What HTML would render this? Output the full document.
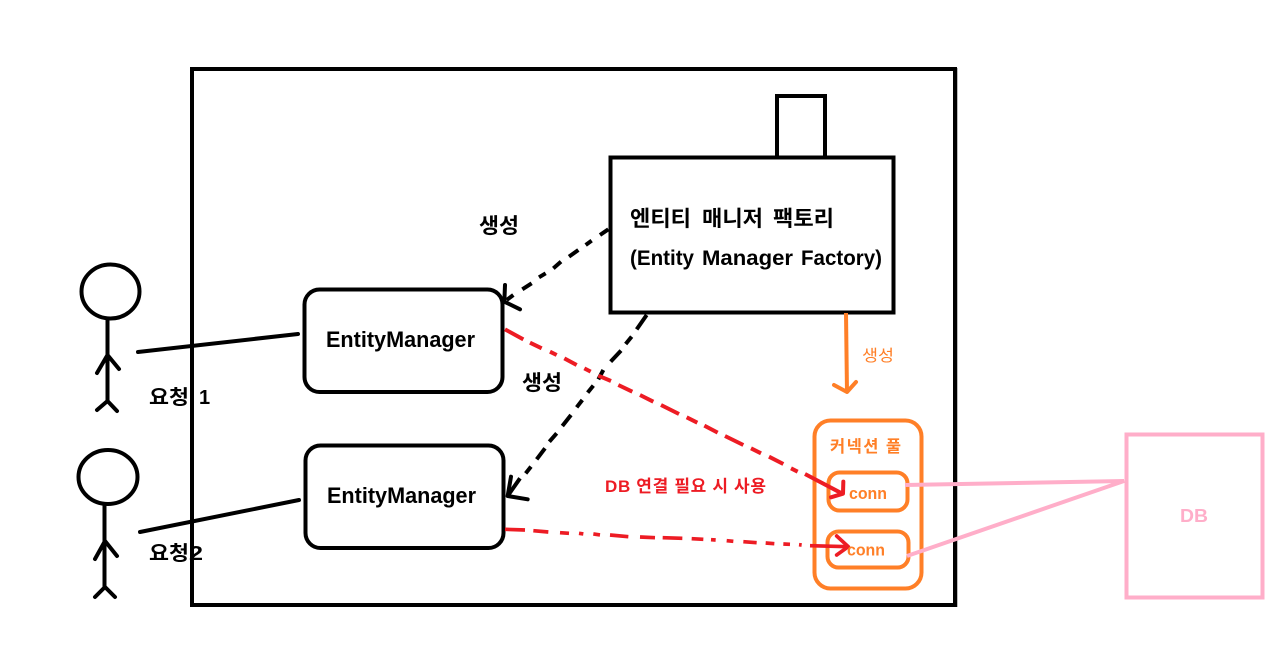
<!DOCTYPE html>
<html lang="ko">
<head>
<meta charset="utf-8">
<title>Entity Manager Factory</title>
<style>
html,body{margin:0;padding:0;background:#fff;width:1280px;height:652px;overflow:hidden}
svg{display:block}
text{font-family:"Liberation Sans","Noto Sans CJK KR",sans-serif;font-weight:700}
</style>
</head>
<body>
<svg width="1280" height="652" viewBox="0 0 1280 652" xmlns="http://www.w3.org/2000/svg" fill="none" stroke-linecap="butt">
<!-- outer -->
<rect x="192" y="69" width="763" height="536" stroke="#000" stroke-width="4"/>
<line x1="957.5" y1="68" x2="957.5" y2="607" stroke="#bbb" stroke-width="1"/>
<!-- chimney + factory -->
<rect x="777" y="96" width="48" height="62" stroke="#000" stroke-width="4"/>
<rect x="610.500" y="157.500" width="283" height="155" stroke="#000" stroke-width="4" fill="#fff"/>
<!-- actors -->
<g stroke="#000" stroke-width="4" stroke-linecap="round" stroke-linejoin="round">
<ellipse cx="110.500" cy="291.500" rx="29" ry="27"/>
<path d="M107.500 320V400M97 373L107.500 355L119 369M97 410L107.500 401L117 411"/>
<ellipse cx="108" cy="477" rx="29.500" ry="27"/>
<path d="M104.500 505V587M95 559L105 541L117 556M95 597L105 587L115 597"/>
<path d="M138 352L298 334M140 532L299 500"/>
</g>
<!-- entity managers -->
<rect x="304.500" y="289.500" width="198" height="102.500" rx="15" stroke="#000" stroke-width="4"/>
<rect x="305.500" y="445.500" width="198" height="102.500" rx="15" stroke="#000" stroke-width="4"/>
<!-- black dashed -->
<g transform="translate(495 220) scale(.33333)" stroke="#000" stroke-width="12">
<path d="M340 28L315 45M290 62L272 75M250 90L222 110M198 125L175 145M152 160L132 172M110 190L82 208M55 225L35 240"/>
<path d="M455 285L425 328M410 350L392 372M378 392L347 425M325 450L310 478M295 497L278 518M262 540L245 562M228 585L202 618M185 640L163 665M150 685L125 718M108 740L92 760M75 775L40 825"/>
<path d="M30 195L28 245L75 268" stroke-linejoin="round" stroke-linecap="round"/>
<path d="M48 770L38 828L98 838" stroke-linejoin="round" stroke-linecap="round"/>
</g>
<!-- orange -->
<g stroke="#ff7f27" stroke-width="4">
<path d="M846 313L847 393"/>
<path d="M834 385L847 392L856 382" stroke-linecap="round" stroke-linejoin="round"/>
<rect x="814.500" y="420.500" width="107" height="168" rx="16"/>
<rect x="828.500" y="472.500" width="79" height="38" rx="11"/>
<rect x="827.500" y="531.500" width="81" height="36" rx="11"/>
</g>
<!-- red -->
<g transform="translate(495 310) scale(.33333)" stroke="#ed1c24" stroke-width="12">
<path d="M30 58L85 88M105 98L140 115M165 125L185 135M208 145L245 165M268 175L287 185M310 197L348 213M370 225L412 245M435 255L475 275M498 285L552 312M575 322L607 338M628 347L668 368M690 378L745 405M768 415L798 430M822 440L865 462M888 475L908 485M930 492L1040 550"/>
<path d="M1045 515L1044 551L1008 562" stroke-linecap="round" stroke-linejoin="round"/>
</g>
<g transform="translate(495 460) scale(.33333)" stroke="#ed1c24" stroke-width="11">
<path d="M30 208L90 210M115 212L160 216M195 218L222 220M252 220L265 222M295 222L315 225M345 225L400 230M435 231L480 233M503 233L562 235M590 236L625 238M648 239L662 240M695 242L715 244M745 245L785 248M812 249L838 251M865 252L885 253M912 254L920 255M945 257L1060 260"/>
<path d="M1025 228L1060 260L1025 285" stroke-linecap="round" stroke-linejoin="round"/>
</g>
<!-- pink -->
<g stroke="#ffaec9" stroke-width="4">
<rect x="1126.500" y="434.500" width="136" height="163"/>
<path d="M905 485L1124 481L907 556"/>
</g>
<!-- labels -->
<g fill="#000">
<text x="479" y="233" font-size="21" textLength="40" lengthAdjust="spacingAndGlyphs">생성</text>
<text x="522" y="390" font-size="21" textLength="40" lengthAdjust="spacingAndGlyphs">생성</text>
<text x="630" y="226" font-size="21.500" textLength="61" lengthAdjust="spacingAndGlyphs">엔티티</text>
<text x="702" y="226" font-size="21.500" textLength="61" lengthAdjust="spacingAndGlyphs">매니저</text>
<text x="773" y="226" font-size="21.500" textLength="61" lengthAdjust="spacingAndGlyphs">팩토리</text>
<text x="630" y="265" font-size="21" textLength="64" lengthAdjust="spacingAndGlyphs">(Entity</text>
<text x="702" y="265" font-size="21" textLength="91" lengthAdjust="spacingAndGlyphs">Manager</text>
<text x="801" y="265" font-size="21" textLength="81" lengthAdjust="spacingAndGlyphs">Factory)</text>
<text x="326" y="347" font-size="22" textLength="149" lengthAdjust="spacingAndGlyphs">EntityManager</text>
<text x="327" y="503" font-size="22" textLength="149" lengthAdjust="spacingAndGlyphs">EntityManager</text>
<text x="149" y="404" font-size="20" textLength="40" lengthAdjust="spacingAndGlyphs">요청</text>
<text x="199" y="404" font-size="20">1</text>
<text x="149" y="560" font-size="20" textLength="40" lengthAdjust="spacingAndGlyphs">요청</text>
<text x="189" y="560" font-size="20" textLength="14" lengthAdjust="spacingAndGlyphs">2</text>
</g>
<text x="605" y="492" font-size="17" fill="#ed1c24" textLength="161" lengthAdjust="spacing">DB 연결 필요 시 사용</text>
<g fill="#ff7f27">
<text x="862" y="361" font-size="16" style="font-weight:400" textLength="32" lengthAdjust="spacingAndGlyphs">생성</text>
<text x="830" y="452" font-size="16.500" textLength="71" lengthAdjust="spacing">커넥션 풀</text>
<text x="849" y="499" font-size="16.500" textLength="38" lengthAdjust="spacingAndGlyphs">conn</text>
<text x="847" y="555.500" font-size="16.500" textLength="38" lengthAdjust="spacingAndGlyphs">conn</text>
</g>
<text x="1180" y="522" font-size="18" fill="#ffaec9" textLength="28" lengthAdjust="spacingAndGlyphs">DB</text>
</svg>
</body>
</html>
